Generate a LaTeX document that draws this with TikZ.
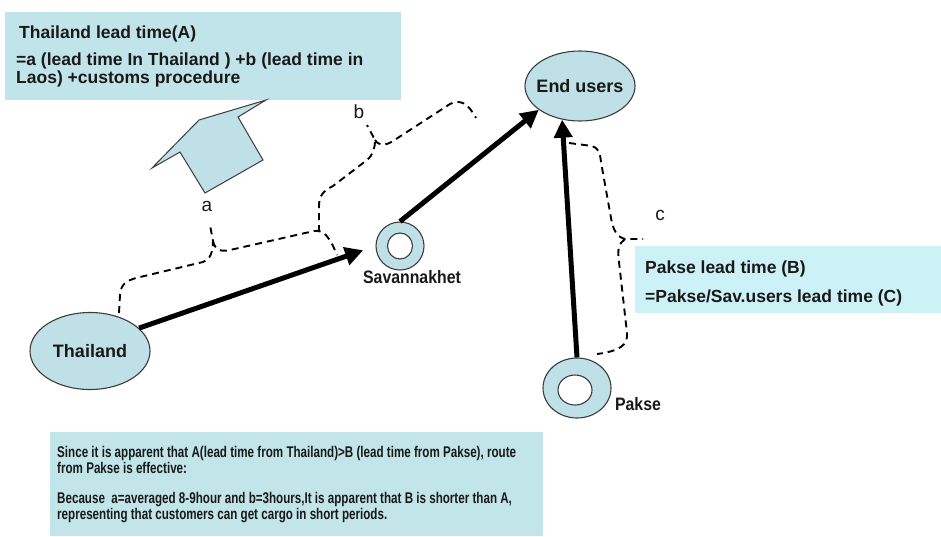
\documentclass[tikz,border=0pt]{standalone}
\usepackage{fontspec}
\setmainfont{Liberation Sans}
\newfontfamily\narrowfont[FakeStretch=0.75]{Liberation Sans}
\newfontfamily\semifont[FakeStretch=0.88]{Liberation Sans}
\usetikzlibrary{arrows.meta,shapes.geometric}
\definecolor{boxA}{RGB}{193,228,234}
\definecolor{boxB}{RGB}{204,241,247}
\definecolor{boxC}{RGB}{193,229,233}
\definecolor{nodefill}{RGB}{190,224,230}
\definecolor{edgecol}{RGB}{60,60,60}
\definecolor{textcol}{RGB}{25,25,25}
\begin{document}
\begin{tikzpicture}[x=1pt,y=-1pt,
  infobox/.style={rectangle, fill=#1, draw=none, inner sep=0pt, anchor=north west},
  ellip/.style={ellipse, draw=edgecol, line width=1.1pt, fill=nodefill, inner sep=0pt},
  hole/.style={ellipse, draw=edgecol, line width=1.1pt, fill=white, inner sep=0pt},
  boxtext/.style={anchor=base west, inner sep=0pt, text=textcol, font=\fontsize{17.5}{20}\selectfont\bfseries},
  bottext/.style={anchor=base west, inner sep=0pt, text=textcol, font=\fontsize{15.5}{18}\selectfont\narrowfont\bfseries},
  nodetext/.style={inner sep=0pt, text=textcol, font=\fontsize{18}{21}\selectfont\bfseries},
  smalllabel/.style={inner sep=0pt, text=textcol, font=\fontsize{18}{21}\selectfont\semifont\bfseries},
  letter/.style={inner sep=0pt, text=textcol, font=\fontsize{19}{21}\selectfont},
  bigarrow/.style={line width=5pt, draw=black, -{Triangle[length=18pt,width=18pt]}},
  bracepath/.style={line width=1.9pt, dash pattern=on 7pt off 5pt, draw=black},
]
\useasboundingbox (0,0) rectangle (941,536);
\fill[white] (0,0) rectangle (941,536);

% info boxes
\node[infobox=boxA, minimum width=396pt, minimum height=88pt] (boxa) at (5,12) {};
\node[infobox=boxB, minimum width=306pt, minimum height=67pt] (boxb) at (635,246) {};
\node[infobox=boxC, minimum width=493pt, minimum height=104pt] (boxc) at (50,432) {};

\node[boxtext] (ta1) at (19,38) {Thailand lead time(A)};
\node[boxtext] (ta2) at (16,65) {=a (lead time In Thailand ) +b (lead time in};
\node[boxtext] (ta3) at (16,83) {Laos) +customs procedure};

\node[boxtext] (tb1) at (645,273) {Pakse lead time (B)};
\node[boxtext] (tb2) at (645,302) {=Pakse/Sav.users lead time (C)};

\node[bottext] (tc1) at (57,457) {Since it is apparent that A(lead time from Thailand)>B (lead time from Pakse), route};
\node[bottext] (tc2) at (57,473) {from Pakse is effective:};
\node[bottext] (tc3) at (57,503) {Because\ \ a=averaged 8-9hour and b=3hours,It is apparent that B is shorter than A,};
\node[bottext] (tc4) at (57,519) {representing that customers can get cargo in short periods.};

% block arrow shape
\draw[draw=edgecol, line width=1pt, fill=nodefill, line join=miter]
  (152,168) -- (180,152) -- (205,193) -- (263,160) -- (238,117) -- (266,100) -- (199,120) -- cycle;

% dashed braces
\draw[bracepath] (119,313) -- (120,295) .. controls (121,284) and (126,281) .. (136,278)
  -- (203,262) .. controls (210,260) and (213,252) .. (213,241) -- (210,225);
\draw[bracepath] (213,241) .. controls (215,250) and (220,252) .. (230,250)
  -- (314,231) .. controls (324,229) and (330,238) .. (337,255);

\draw[bracepath] (319,232) -- (319,206) .. controls (319,196) and (323,191) .. (333,186)
  -- (367,160) .. controls (373,155) and (375,148) .. (375,140) -- (367,125);
\draw[bracepath] (375,140) .. controls (379,146) and (385,146) .. (393,141)
  -- (450,104) .. controls (460,99) and (468,103) .. (476,118);

\draw[bracepath] (569,143) -- (592,146) .. controls (598,148) and (600,152) .. (601,162)
  -- (611,218) .. controls (613,230) and (617,237) .. (625,239) -- (643,239);
\draw[bracepath] (625,239) .. controls (619,243) and (617,250) .. (619,262)
  -- (627,333) .. controls (628,345) and (620,351) .. (597,354);

% nodes
\node[ellip, minimum width=120pt, minimum height=77pt] (thai) at (90,351) {};
\node[nodetext] (thaitext) at (thai.center) {Thailand};
\node[ellip, minimum width=110pt, minimum height=70pt] (end) at (580,86) {};
\node[nodetext] (endtext) at (end.center) {End users};

\node[ellip, minimum width=48pt, minimum height=48pt] (sav) at (400,246) {};
\node[hole, minimum width=25pt, minimum height=26pt] (savhole) at (sav.center) {};
\node[smalllabel] (savtext) at (412,277) {Savannakhet};

\node[ellip, minimum width=68pt, minimum height=60pt] (pak) at (577,388) {};
\node[hole, minimum width=34pt, minimum height=30pt] (pakhole) at (575,390) {};
\node[smalllabel] (paktext) at (638,404) {Pakse};

% letters
\node[letter] (la) at (207,206) {a};
\node[letter] (lb) at (359,112) {b};
\node[letter] (lc) at (660,215) {c};

% thick arrows
\draw[bigarrow, shorten >=13pt] (thai.25) -- (sav.west);
\draw[bigarrow] (sav.north) -- (end.210);
\draw[bigarrow] (pak.north) -- (end.242);
\end{tikzpicture}
\end{document}
